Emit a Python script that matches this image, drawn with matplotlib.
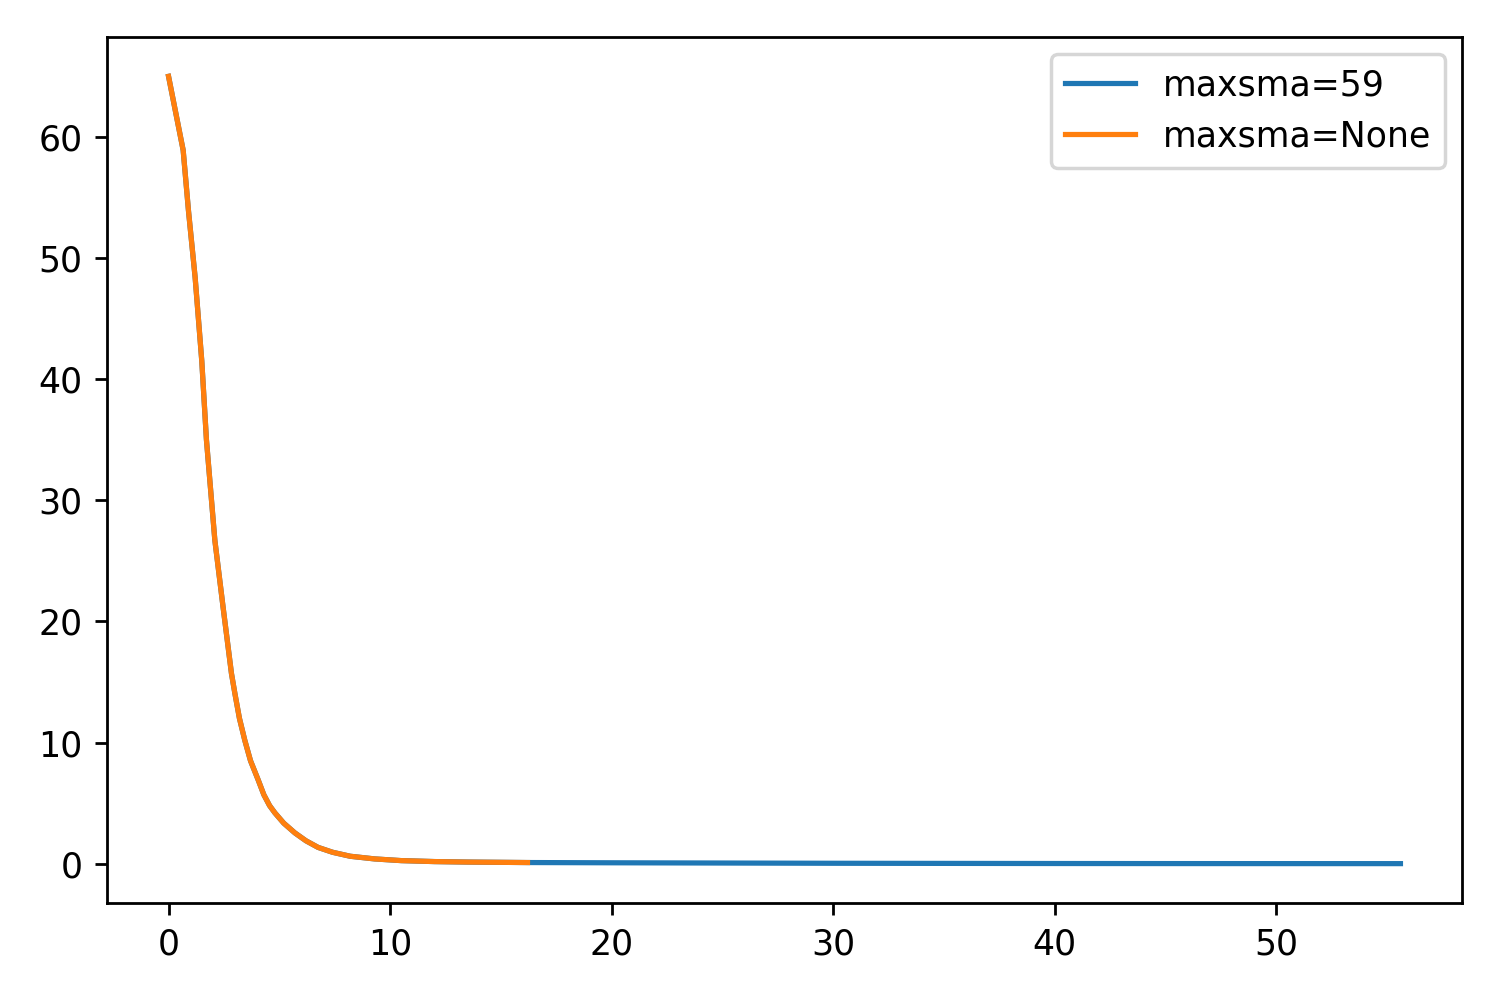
import matplotlib
matplotlib.use("Agg")
import matplotlib.pyplot as plt

# values
x_none = [0, 0.66, 0.9, 1.2, 1.5, 1.71, 2.09, 2.46, 2.84, 3.0, 3.2, 3.44, 3.7,
          4.05, 4.3, 4.56, 4.8, 5.2, 5.7, 6.2, 6.75, 7.4, 8.2, 9.3, 10.5,
          12.0, 13.5, 16.2]
y_none = [65, 58.9, 53.9, 48.4, 41.5, 35.0, 26.7, 21.2, 15.7, 14.0, 12.0, 10.2, 8.5,
          6.9, 5.7, 4.8, 4.2, 3.35, 2.55, 1.9, 1.35, 0.95, 0.62, 0.4, 0.26,
          0.18, 0.14, 0.1]

# maxsma=59 follows the same path, then keeps going near zero
x_tail = [20, 25, 30, 35, 40, 45, 50, 55.6]
y_tail = [0.08, 0.06, 0.04, 0.03, 0.02, 0.015, 0.012, 0.01]
x_59 = x_none + x_tail
y_59 = y_none + y_tail

labels = ["maxsma=59", "maxsma=None"]

fig, ax = plt.subplots(figsize=(6, 4), dpi=250)
fig.subplots_adjust(left=0.0713, right=0.9747, top=0.963, bottom=0.097)

ax.plot(x_59, y_59, label=labels[0])
ax.plot(x_none, y_none, label=labels[1])
ax.legend(loc="best")

fig.savefig("out.png", dpi=250)
